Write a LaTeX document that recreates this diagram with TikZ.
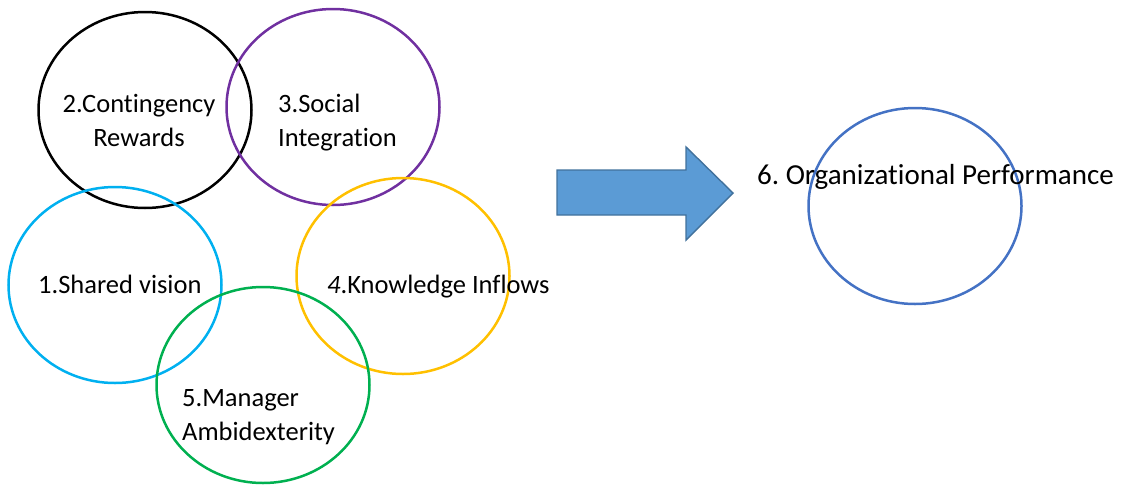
\documentclass[tikz,border=0pt]{standalone}
\usepackage{fontspec}
\setmainfont{Carlito}[Ligatures={NoCommon}]
\frenchspacing
\usetikzlibrary{shapes.geometric}
\definecolor{cPurple}{HTML}{7030A0}
\definecolor{cCyan}{HTML}{00B0F0}
\definecolor{cOrange}{HTML}{FFC000}
\definecolor{cGreen}{HTML}{00B050}
\definecolor{cBlue}{HTML}{4472C4}
\definecolor{arrowFill}{HTML}{5B9BD5}
\definecolor{arrowLine}{HTML}{41719C}
\begin{document}
\begin{tikzpicture}[x=1pt,y=-1pt,
  ring/.style={ellipse, draw=#1, line width=2.5pt, minimum width=213pt, minimum height=196pt, inner sep=0pt},
  lbl/.style={inner sep=0pt, font=\fontsize{26.5}{34}\selectfont},
  title/.style={inner sep=0pt, font=\fontsize{29}{35}\selectfont}]
  \useasboundingbox (0,0) rectangle (1121,485);
  % factor circles
  \node[ring=black]   (rewards)   at (145,110) {};
  \node[ring=cPurple] (social)    at (333,107) {};
  \node[ring=cCyan]   (vision)    at (115,285) {};
  \node[ring=cOrange] (knowledge) at (403,276) {};
  \node[ring=cGreen]  (manager)   at (263,385) {};
  \node[ring=cBlue]   (perf)      at (915,206) {};
  % labels (multi-line nodes sit on the baseline of their last line)
  \node[lbl, align=center, anchor=base] (tRewards) at (139,146) {2.Contingency\\Rewards};
  \node[lbl, align=left, anchor=base west] (tSocial) at (278,146) {3.Social\\Integration};
  \node[lbl, anchor=base west] (tVision) at (38,293) {1.Shared vision};
  \node[lbl, anchor=base west] (tKnow) at (327,293) {\textit{4}.Knowledge Inflows};
  \node[lbl, align=left, anchor=base west] (tManager) at (182,440) {5.Manager\\Ambidexterity};
  \node[title, anchor=base west] (tPerf) at (757,184) {6. Organizational Performance};
  % block arrow
  \coordinate (aTail) at (557,193);
  \coordinate (aTip)  at (733,193);
  \draw[fill=arrowFill, draw=arrowLine, line width=1.4pt, line join=miter]
    (557,170) -- (686,170) -- (686,147) -- (aTip) -- (686,240) -- (686,215) -- (557,215) -- cycle;
\end{tikzpicture}
\end{document}
